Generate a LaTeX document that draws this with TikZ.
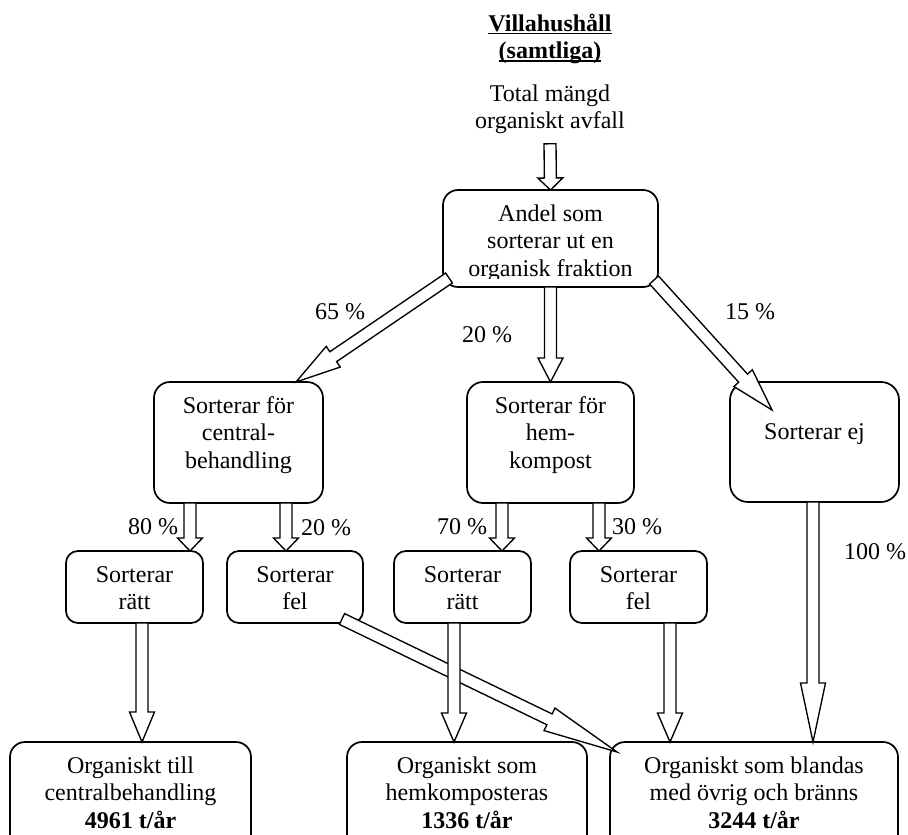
\documentclass[tikz,border=0pt]{standalone}
\usepackage{fontspec}
\setmainfont{Liberation Serif}
\usetikzlibrary{calc}

% underline drawn as a fixed rule below the baseline
\newsavebox\ulbox
\newcommand\ulined[1]{\sbox\ulbox{#1}\rlap{\rule[-3pt]{\wd\ulbox}{1.5pt}}\usebox\ulbox}

% hollow block arrow from #2 to #3, head length #1
\newcommand\flowarrow[3][14]{%
  \path let \p1=(#2), \p2=(#3) in
    \pgfextra{%
      \pgfmathsetmacro\flowlentmp{veclen(\x2-\x1,\y2-\y1)}%
      \pgfmathsetmacro\flowangtmp{atan2(\y2-\y1,\x2-\x1)}%
      \global\let\flowlen\flowlentmp
      \global\let\flowang\flowangtmp};
  \draw[flow, shift={(#2)}, rotate=\flowang]
    (0,-6) -- ({\flowlen-#1},-6) -- ({\flowlen-#1},-12.5) -- (\flowlen,0)
    -- ({\flowlen-#1},12.5) -- ({\flowlen-#1},6) -- (0,6) -- cycle;}

\begin{document}
\begin{tikzpicture}[x=1pt,y=1pt,
  every node/.style={font=\fontsize{24}{27.6}\selectfont, inner sep=0pt, outer sep=0pt},
  box/.style={draw, line width=1.7pt, rounded corners=15pt, anchor=north west},
  boxtext/.style={anchor=north, yshift=-11.7pt, align=center},
  flow/.style={draw, fill=white, line width=1.35pt, line join=miter}]

\useasboundingbox (0,0) rectangle (908,-835);

% heading
\node[anchor=north, align=center, font=\fontsize{24}{27.6}\selectfont\bfseries] (title) at (550,-11.7)
  {\strut\ulined{Villahushåll}\\\ulined{(samtliga)}};
\node[anchor=north, align=center] (total) at (550,-81.7)
  {\strut Total mängd\\organiskt avfall};

% boxes
\node[box, minimum width=215pt, minimum height=97pt] (andel) at (443,-190) {};
\node[box, minimum width=169pt, minimum height=121pt, rounded corners=16pt] (cb) at (154,-382) {};
\node[box, minimum width=167pt, minimum height=121pt, rounded corners=16pt] (hk) at (467,-382) {};
\node[box, minimum width=169pt, minimum height=120pt, rounded corners=18pt] (ej) at (730,-382) {};
\node[box, minimum width=137pt, minimum height=72pt, rounded corners=12pt] (r1) at (66,-551) {};
\node[box, minimum width=136pt, minimum height=72pt, rounded corners=12pt] (f1) at (227,-551) {};
\node[box, minimum width=137pt, minimum height=72pt, rounded corners=12pt] (r2) at (394,-551) {};
\node[box, minimum width=137pt, minimum height=72pt, rounded corners=12pt] (f2) at (570,-551) {};
\node[box, minimum width=241pt, minimum height=120pt] (o1) at (10,-742) {};
\node[box, minimum width=240pt, minimum height=120pt] (o2) at (347,-742) {};
\node[box, minimum width=288pt, minimum height=120pt] (o3) at (610,-742) {};

% box texts
\begin{scope}
  \clip ([yshift=9pt]andel.south west) rectangle (andel.north east);
  \node[boxtext] (andeltxt) at (andel.north) {\strut Andel som\\sorterar ut en\\organisk fraktion};
\end{scope}
\node[boxtext] (cbtxt) at (cb.north) {\strut Sorterar för\\central-\\behandling};
\node[boxtext] (hktxt) at (hk.north) {\strut Sorterar för\\hem-\\kompost};
\node[anchor=base] (ejtxt) at ([yshift=3pt]ej.center) {Sorterar ej};
\node[boxtext] (r1txt) at (r1.north) {\strut Sorterar\\rätt};
\node[boxtext] (f1txt) at (f1.north) {\strut Sorterar\\fel};
\node[boxtext] (r2txt) at (r2.north) {\strut Sorterar\\rätt};
\node[boxtext] (f2txt) at (f2.north) {\strut Sorterar\\fel};
\node[boxtext] (o1txt) at (o1.north) {\strut Organiskt till\\centralbehandling\\\textbf{4961 t/år}};
\node[boxtext] (o2txt) at (o2.north) {\strut Organiskt som\\hemkomposteras\\\textbf{1336 t/år}};
\node[boxtext] (o3txt) at (o3.north) {\strut Organiskt som blandas\\med övrig och bränns\\\textbf{3244 t/år}};

% arrow start points
\coordinate (a65) at ([xshift=6pt,yshift=9pt]andel.south west);
\coordinate (a15) at ([xshift=-4pt,yshift=7pt]andel.south east);
\coordinate (a80) at ([xshift=-48.5pt]cb.south);
\coordinate (a20) at ([xshift=47.5pt]cb.south);
\coordinate (a70) at ([xshift=-48.5pt]hk.south);
\coordinate (a30) at ([xshift=48.5pt]hk.south);
\coordinate (ar1) at ([xshift=7.5pt]r1.south);
\coordinate (ar2) at ([xshift=-8.5pt]r2.south);
\coordinate (af2) at ([xshift=31.5pt]f2.south);
\coordinate (aej) at ([xshift=-1.5pt]ej.south);
\coordinate (af1) at ([xshift=-21pt,yshift=4pt]f1.south east);

% arrows
\flowarrow[12]{[yshift=-10pt]total.south}{andel.north}
\flowarrow[45]{a65}{[xshift=-27pt]cb.north east}
\flowarrow[24]{andel.south}{andel.south |- hk.north}
\flowarrow[43]{a15}{[xshift=42pt,yshift=-28pt]ej.north west}
\flowarrow[13]{a80}{a80 |- r1.north}
\flowarrow[13]{a20}{a20 |- f1.north}
\flowarrow[13]{a70}{a70 |- r2.north}
\flowarrow[13]{a30}{a30 |- f2.north}
\flowarrow[30]{ar1}{ar1 |- o1.north}
\flowarrow[75]{af1}{[xshift=7pt,yshift=-10pt]o3.north west}
\flowarrow[29]{ar2}{ar2 |- o2.north}
\flowarrow[29]{af2}{af2 |- o3.north}
\flowarrow[59]{aej}{aej |- o3.north}

% shares
\node (p65) at (340,-312) {65 \%};
\node (p20a) at (487,-335) {20 \%};
\node (p15) at (750,-312) {15 \%};
\node (p80) at (153,-527) {80 \%};
\node (p20b) at (326,-528) {20 \%};
\node (p70) at (462,-527) {70 \%};
\node (p30) at (637,-527) {30 \%};
\node (p100) at (875,-552) {100 \%};
\end{tikzpicture}
\end{document}
